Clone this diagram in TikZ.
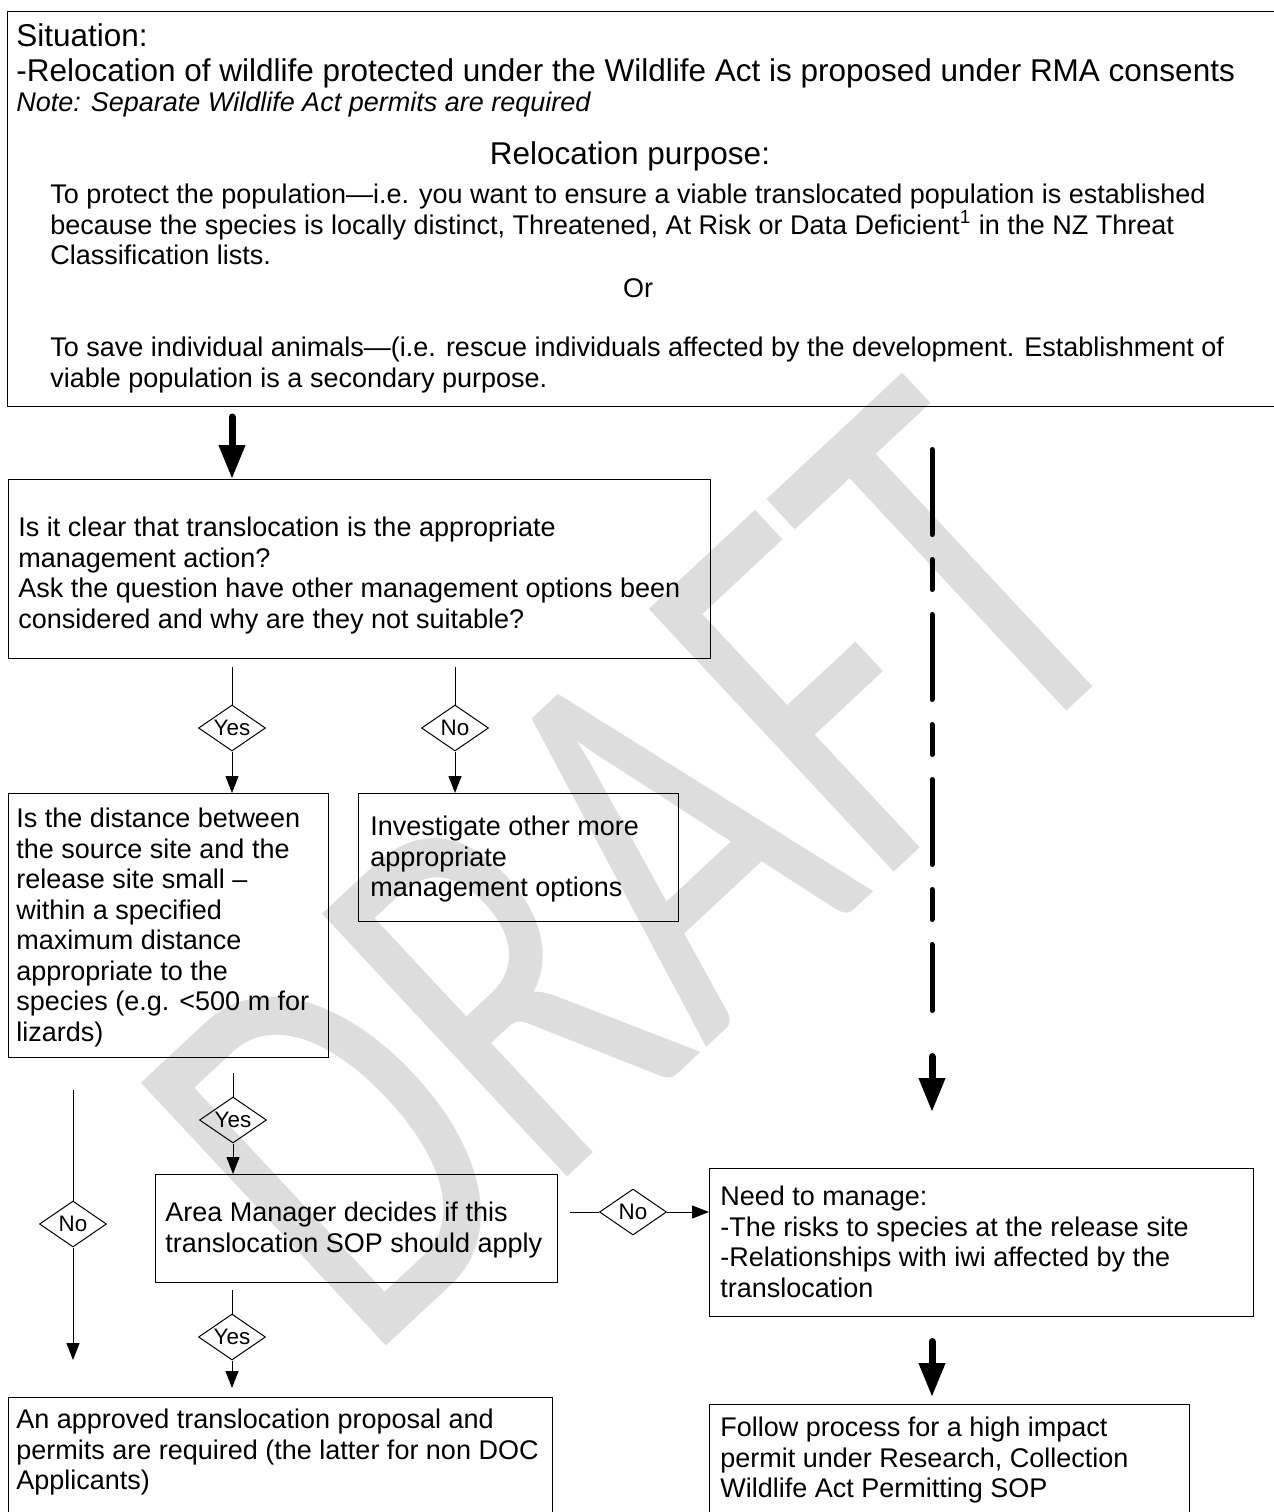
\documentclass[tikz,border=0pt]{standalone}
\usepackage{fontspec}
\setmainfont{Liberation Sans}
\newfontfamily\wmfont{Carlito}
\usetikzlibrary{arrows.meta,shapes.geometric,calc}
\definecolor{wmgray}{RGB}{221,221,221}

\begin{document}
\begin{tikzpicture}[x=0.5pt,y=-0.5pt,
  box/.style={draw, line width=0.65pt, inner sep=0, anchor=north west},
  body/.style={inner sep=0, anchor=north west, align=left, font=\fontsize{13.5pt}{15.25pt}\selectfont},
  big/.style={inner sep=0, align=left, font=\fontsize{15.75pt}{17.5pt}\selectfont},
  dia/.style={draw, diamond, aspect=1.46, inner sep=0, minimum width=33.5pt, minimum height=23pt, line width=0.5pt, font=\fontsize{11.2pt}{12pt}\selectfont},
  thin/.style={line width=0.5pt},
  thinarrow/.style={line width=0.5pt, -{Triangle[width=6.5pt,length=8.5pt]}},
  bigarrow/.style={line width=3.5pt, line cap=round, -{Triangle[width=12.5pt,length=17pt]}},
  dashdot/.style={line width=2.5pt, line cap=round, dash pattern=on 42.5pt off 12.5pt on 15pt off 12.5pt},
]
\useasboundingbox (0,0) rectangle (1274,1512);

% watermark, stretched diagonally across the page
\node[font=\wmfont\fontsize{200pt}{200pt}\selectfont, text=wmgray, anchor=base west, inner sep=0, rotate=43, yscale=1.4] (wm) at (366,1365) {DRAFT};

% boxes
\node[box, minimum width=635.5pt, minimum height=197.5pt] (top) at (7,11) {};
\node[box, minimum width=351pt, minimum height=89.5pt] (q1) at (8,479) {};
\node[box, minimum width=160pt, minimum height=132pt] (q2) at (8,793) {};
\node[box, minimum width=160pt, minimum height=64pt] (inv) at (358,793) {};
\node[box, minimum width=201pt, minimum height=54pt] (area) at (155,1174) {};
\node[box, minimum width=272pt, minimum height=74pt] (need) at (709,1168) {};
\node[box, minimum width=272pt, minimum height=65pt] (appr) at (8,1397) {};
\node[box, minimum width=240pt, minimum height=60pt] (follow) at (709,1404) {};

% texts of the situation box
\node[big, anchor=north west] (sit) at (16,23.7) {Situation:\\-Relocation of wildlife protected under the Wildlife Act is proposed under RMA consents};
\node[inner sep=0, anchor=base west, font=\fontsize{13.5pt}{15pt}\selectfont\itshape] (note) at (16,111) {Note: Separate Wildlife Act permits are required};
\node[big, anchor=base] (purpose) at (630,164) {Relocation purpose:};
\node[body] (p1) at (50,183.7) {To protect the population—i.e. you want to ensure a viable translocated population is established\\because the species is locally distinct, Threatened, At Risk or Data Deficient\textsuperscript{1} in the NZ Threat\\Classification lists.};
\node[inner sep=0, anchor=base, font=\fontsize{13.5pt}{15.25pt}\selectfont] (or) at (638,297) {Or};
\node[body] (p2) at (50,336.7) {To save individual animals—(i.e. rescue individuals affected by the development. Establishment of\\viable population is a secondary purpose.};

% texts of the other boxes
\node[body] (q1t) at (18,516.7) {Is it clear that translocation is the appropriate\\management action?\\Ask the question have other management options been\\considered and why are they not suitable?};
\node[body] (q2t) at (16,807.7) {Is the distance between\\the source site and the\\release site small –\\within a specified\\maximum distance\\appropriate to the\\species (e.g. <500 m for\\lizards)};
\node[body] (invt) at (370,815.7) {Investigate other more\\appropriate\\management options};
\node[body] (areat) at (165,1201.7) {Area Manager decides if this\\translocation SOP should apply};
\node[body] (needt) at (720,1185.7) {Need to manage:\\-The risks to species at the release site\\-Relationships with iwi affected by the\\translocation};
\node[body] (apprt) at (16,1408.7) {An approved translocation proposal and\\permits are required (the latter for non DOC\\Applicants)};
\node[body] (followt) at (720,1416.7) {Follow process for a high impact\\permit under Research, Collection\\Wildlife Act Permitting SOP};

% decision diamonds
\node[dia] (d1y) at (232,728) {Yes};
\node[dia] (d1n) at (455,728) {No};
\node[dia] (d2y) at (233,1120) {Yes};
\node[dia] (d2n) at (73,1224) {No};
\node[dia] (d3y) at (232,1337) {Yes};
\node[dia] (d3n) at (633,1212) {No};

% connector ends
\coordinate (c1) at (232,667);
\coordinate (c2) at (455,667);
\coordinate (c3) at (233,1073);
\coordinate (c4) at (73,1090);
\coordinate (e4) at (73,1360);
\coordinate (c5) at (570,1212);
\coordinate (c6) at (232,1290);
\coordinate (e6) at (232,1388);
\coordinate (b1) at (232,417);
\coordinate (b2) at (932,1341.5);
\coordinate (b2e) at (932,1397);
\coordinate (dd1) at (932,449.5);
\coordinate (dd2) at (932,1010.5);
\coordinate (b3) at (932,1056.5);
\coordinate (b3e) at (932,1112);

% connectors
\draw[bigarrow] (b1) -- (b1 |- q1.north);
\draw[thin] (c1) -- (d1y.north);
\draw[thinarrow] (d1y.south) -- (d1y.south |- q2.north);
\draw[thin] (c2) -- (d1n.north);
\draw[thinarrow] (d1n.south) -- (d1n.south |- inv.north);
\draw[thin] (c3) -- (d2y.north);
\draw[thinarrow] (d2y.south) -- (d2y.south |- area.north);
\draw[thin] (c4) -- (d2n.north);
\draw[thinarrow] (d2n.south) -- (e4);
\draw[thin] (c5) -- (d3n.west);
\draw[thinarrow] (d3n.east) -- (d3n.east -| need.west);
\draw[thin] (c6) -- (d3y.north);
\draw[thinarrow] (d3y.south) -- (e6);
\draw[dashdot] (dd1) -- (dd2);
\draw[bigarrow] (b3) -- (b3e);
\draw[bigarrow] (b2) -- (b2e);
\end{tikzpicture}
\end{document}
